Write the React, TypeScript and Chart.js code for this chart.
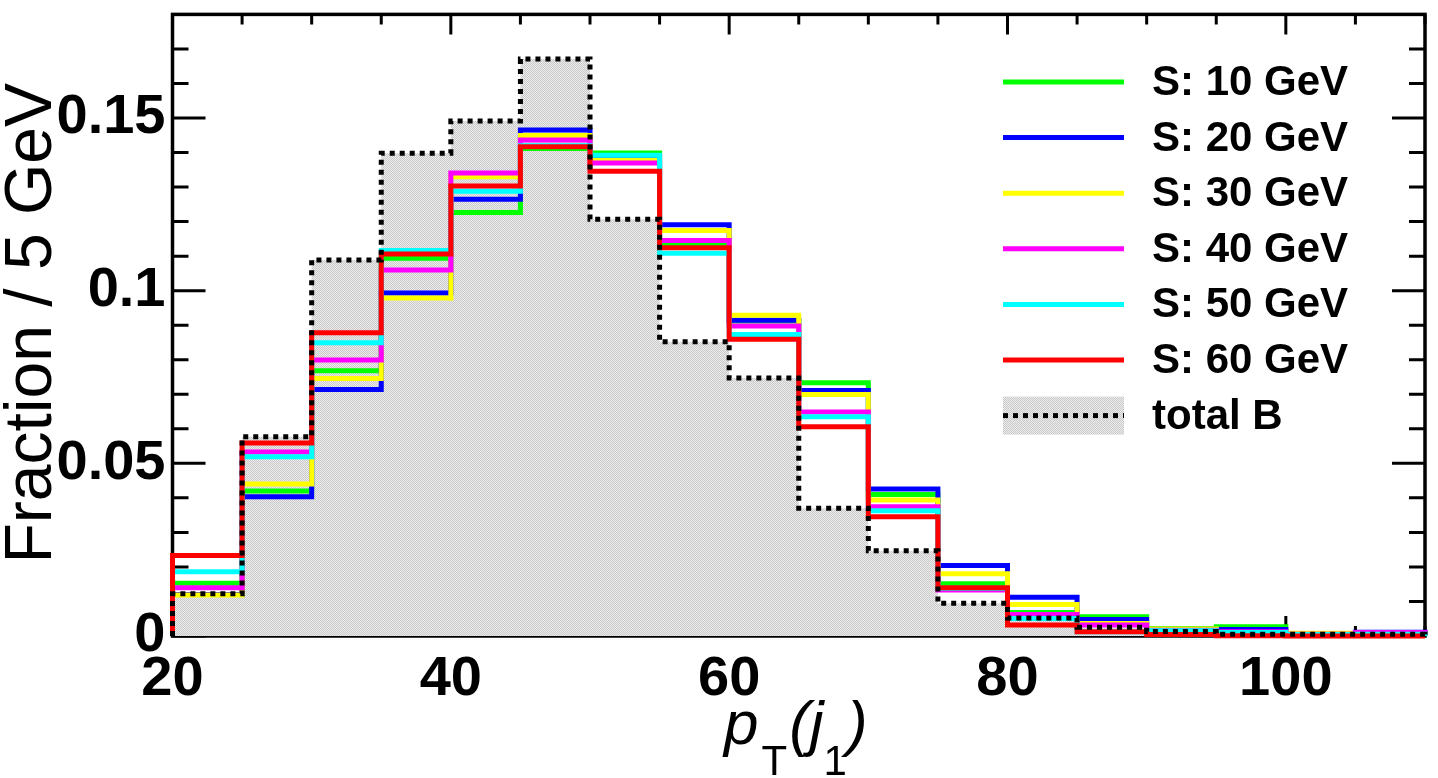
import React, { useEffect, useRef } from "react";
import { Chart, registerables, Plugin } from "chart.js";

Chart.register(...registerables);

// bin edges (5 GeV bins); last value is the upper edge of the last bin
const binEdges = [20, 25, 30, 35, 40, 45, 50, 55, 60, 65, 70, 75, 80, 85, 90, 95, 100, 105, 110];

const sig10 = [0.0153, 0.042, 0.0768, 0.1094, 0.1226, 0.1412, 0.1399, 0.1135, 0.0912, 0.0733, 0.041, 0.0151, 0.0068, 0.0056, 0.0022, 0.0027, 0.0004, 0.0004];
const sig20 = [0.012, 0.0403, 0.0714, 0.0993, 0.1265, 0.1465, 0.139, 0.1191, 0.0914, 0.0711, 0.0426, 0.0204, 0.0112, 0.0048, 0.0016, 0.0019, 0.0004, 0.0011];
const sig30 = [0.0119, 0.044, 0.0746, 0.0979, 0.133, 0.1449, 0.1378, 0.1174, 0.0929, 0.0699, 0.0394, 0.018, 0.0091, 0.0036, 0.002, 0.0006, 0.0008, 0.0004];
const sig40 = [0.014, 0.0533, 0.0799, 0.106, 0.1341, 0.1436, 0.137, 0.1145, 0.0898, 0.0649, 0.0374, 0.0133, 0.0062, 0.0032, 0.0017, 0.0012, 0.0005, 0.001];
const sig50 = [0.0186, 0.0519, 0.0849, 0.1116, 0.1288, 0.142, 0.1392, 0.1108, 0.0873, 0.0635, 0.0363, 0.0138, 0.0051, 0.0012, 0.0015, 0.001, 0.0004, 0.0005];
const sig60 = [0.0233, 0.0559, 0.0878, 0.1106, 0.1303, 0.1417, 0.1346, 0.1124, 0.0859, 0.0606, 0.0345, 0.014, 0.0032, 0.0012, 0.0004, 0.0001, 0, 0];
const totalB = [0.0122, 0.0577, 0.1089, 0.1398, 0.1491, 0.1671, 0.1207, 0.0852, 0.0747, 0.037, 0.0247, 0.0095, 0.0052, 0.0025, 0.0013, 0.0005, 0.0005, 0.0005];

const signalLabels = ["S: 10 GeV", "S: 20 GeV", "S: 30 GeV", "S: 40 GeV", "S: 50 GeV", "S: 60 GeV"];
const signalColors = ["#00ff00", "#0000ff", "#ffff00", "#ff00ff", "#00ffff", "#ff0000"];
const signalSeries = [sig10, sig20, sig30, sig40, sig50, sig60];
const bkgLabel = "total B";

const xTicks = [20, 40, 60, 80, 100];
const yTicks = [0, 0.05, 0.1, 0.15];
const yTickLabels = ["0", "0.05", "0.1", "0.15"];

const FONT = "'Liberation Sans', Arial, Helvetica, sans-serif";

// histogram outline: starts and ends on zero, horizontal over each bin
function histPoints(vals: number[]) {
  const pts = [{ x: binEdges[0], y: 0 }];
  vals.forEach((v, i) => pts.push({ x: binEdges[i], y: v }));
  pts.push({ x: binEdges[binEdges.length - 1], y: vals[vals.length - 1] });
  pts.push({ x: binEdges[binEdges.length - 1], y: 0 });
  return pts;
}

function makeHatch(): CanvasPattern | string {
  const c = document.createElement("canvas");
  c.width = 2;
  c.height = 2;
  const g = c.getContext("2d");
  if (!g) return "#dcdcdc";
  g.fillStyle = "#ececec";
  g.fillRect(0, 0, 2, 2);
  g.fillStyle = "#c9c9c9";
  g.fillRect(0, 0, 1, 1);
  g.fillRect(1, 1, 1, 1);
  return g.createPattern(c, "repeat") || "#dcdcdc";
}

// ROOT-like frame with inward ticks on all four sides
const framePlugin: Plugin<"line"> = {
  id: "frame",
  beforeDatasetsDraw(chart) {
    const { ctx, chartArea: a, scales } = chart;
    const x = scales.x;
    const y = scales.y;
    ctx.save();
    ctx.strokeStyle = "#000";
    ctx.lineWidth = 3.5;
    ctx.strokeRect(a.left, a.top, a.right - a.left, a.bottom - a.top);
    ctx.lineWidth = 3;
    ctx.beginPath();
    for (let i = 0; i <= 18; i++) {
      const px = x.getPixelForValue(20 + i * 5);
      const len = i % 4 === 0 ? 20 : 10;
      ctx.moveTo(px, a.bottom);
      ctx.lineTo(px, a.bottom - len);
      ctx.moveTo(px, a.top);
      ctx.lineTo(px, a.top + len);
    }
    for (let i = 0; i <= 18; i++) {
      const py = y.getPixelForValue(i * 0.01);
      const len = i % 5 === 0 ? 33 : 16;
      ctx.moveTo(a.left, py);
      ctx.lineTo(a.left + len, py);
      ctx.moveTo(a.right, py);
      ctx.lineTo(a.right - len, py);
    }
    ctx.stroke();
    ctx.restore();
  },
  afterDraw(chart) {
    const { ctx, chartArea: a } = chart;
    ctx.save();
    ctx.fillStyle = "#000";

    // y title
    ctx.save();
    ctx.translate(51, (a.top + a.bottom) / 2 - 2);
    ctx.rotate(-Math.PI / 2);
    ctx.font = `66px ${FONT}`;
    ctx.textAlign = "center";
    ctx.textBaseline = "alphabetic";
    ctx.fillText("Fraction / 5 GeV", 0, 0);
    ctx.restore();

    // x title  p_T(j_1)
    ctx.textAlign = "left";
    ctx.textBaseline = "alphabetic";
    let cx = 724;
    const base = 744;
    const sub = 775;
    const big = `italic 62px ${FONT}`;
    const small = `42px ${FONT}`;
    ctx.font = big;
    ctx.fillText("p", cx, base);
    cx += ctx.measureText("p").width + 3;
    ctx.font = small;
    ctx.fillText("T", cx, sub);
    cx += ctx.measureText("T").width + 2;
    ctx.font = big;
    ctx.fillText("(", cx, base);
    cx += ctx.measureText("(").width;
    ctx.fillText("j", cx, base);
    cx += ctx.measureText("j").width;
    ctx.font = small;
    ctx.fillText("1", cx, sub);
    cx += ctx.measureText("1").width;
    ctx.font = big;
    ctx.fillText(")", cx, base);

    // legend
    const lx0 = a.right - 422;
    const lx1 = a.right - 301;
    const tx = a.right - 273;
    const rowY = (i: number) => 82 + i * 55.6;
    ctx.font = `bold 42px ${FONT}`;
    signalLabels.forEach((lab, i) => {
      const ly = rowY(i);
      ctx.strokeStyle = signalColors[i];
      ctx.lineWidth = 5;
      ctx.beginPath();
      ctx.moveTo(lx0, ly);
      ctx.lineTo(lx1, ly);
      ctx.stroke();
      ctx.fillStyle = "#000";
      ctx.fillText(lab, tx, ly + 13);
    });
    const by = rowY(6);
    ctx.fillStyle = makeHatch();
    ctx.fillRect(lx0, by - 19, lx1 - lx0, 38);
    ctx.strokeStyle = "#000";
    ctx.lineWidth = 5;
    ctx.setLineDash([5, 5]);
    ctx.beginPath();
    ctx.moveTo(lx0, by);
    ctx.lineTo(lx1, by);
    ctx.stroke();
    ctx.setLineDash([]);
    ctx.fillStyle = "#000";
    ctx.fillText(bkgLabel, tx, by + 13);
    ctx.restore();
  },
};

function noPadding(s: any) {
  s.paddingTop = 0;
  s.paddingBottom = 0;
  s.paddingLeft = 0;
  s.paddingRight = 0;
}

export default function App() {
  const canvasRef = useRef<HTMLCanvasElement>(null);

  useEffect(() => {
    if (!canvasRef.current) return;
    const ctx = canvasRef.current.getContext("2d")!;

    const datasets: any[] = [
      {
        label: bkgLabel + " fill",
        data: histPoints(totalB),
        stepped: "before",
        borderWidth: 0,
        pointRadius: 0,
        fill: "origin",
        backgroundColor: makeHatch(),
        order: 10,
      },
    ];
    signalSeries.forEach((vals, i) => {
      datasets.push({
        label: signalLabels[i],
        data: histPoints(vals),
        stepped: "before",
        borderColor: signalColors[i],
        borderWidth: 5,
        pointRadius: 0,
        fill: false,
        clip: false,
        order: 8 - i,
      });
    });
    datasets.push({
      label: bkgLabel,
      data: histPoints(totalB),
      stepped: "before",
      borderColor: "#000",
      borderWidth: 5,
      borderDash: [5, 5],
      borderCapStyle: "butt",
      pointRadius: 0,
      fill: false,
      clip: false,
      order: 0,
    });

    const tickFont = { family: FONT, size: 56, weight: "bold" as const };

    const chart = new Chart(ctx, {
      type: "line",
      data: { datasets },
      options: {
        animation: false,
        responsive: true,
        maintainAspectRatio: false,
        layout: { padding: { left: 0, right: 13, top: 14.4, bottom: 0 } },
        plugins: {
          legend: { display: false },
          tooltip: { enabled: false },
        },
        scales: {
          x: {
            type: "linear",
            min: 20,
            max: 110,
            grid: { display: false, drawTicks: false },
            border: { display: false },
            afterBuildTicks: (s: any) => {
              s.ticks = xTicks.map((v) => ({ value: v }));
            },
            afterFit: (s: any) => {
              s.height = 142;
              noPadding(s);
            },
            ticks: {
              color: "#000",
              font: tickFont,
              padding: 10,
              maxRotation: 0,
              autoSkip: false,
              callback: (v: any) => String(v),
            },
          },
          y: {
            type: "linear",
            min: 0,
            max: 0.18,
            grid: { display: false, drawTicks: false },
            border: { display: false },
            afterBuildTicks: (s: any) => {
              s.ticks = yTicks.map((v) => ({ value: v }));
            },
            afterFit: (s: any) => {
              s.width = 172.5;
              noPadding(s);
            },
            ticks: {
              color: "#000",
              font: tickFont,
              padding: 7,
              autoSkip: false,
              callback: (v: any) => {
                const idx = yTicks.findIndex((t) => Math.abs(t - v) < 1e-9);
                return idx >= 0 ? yTickLabels[idx] : "";
              },
            },
          },
        },
      },
      plugins: [framePlugin],
    });

    return () => chart.destroy();
  }, []);

  return (
    <div style={{ position: "absolute", left: 0, top: 0, width: 1438, height: 778, background: "#fff" }}>
      <canvas ref={canvasRef} />
    </div>
  );
}
